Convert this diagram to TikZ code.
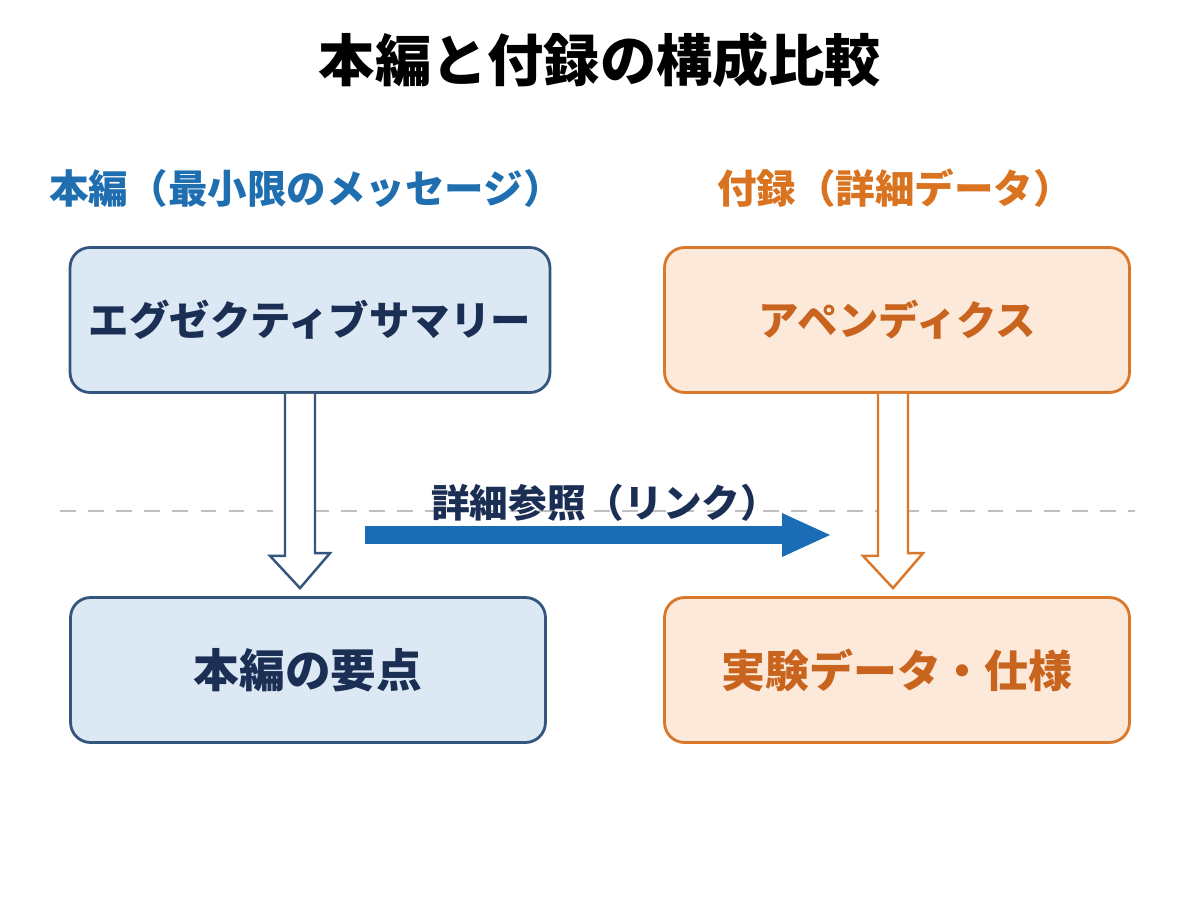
\documentclass[tikz,border=0pt]{standalone}
\usepackage{fontspec}
\setmainfont{Noto Sans CJK JP}
\usetikzlibrary{positioning,calc}
\definecolor{hdblue}{HTML}{1F6FB0}
\definecolor{bxblue}{HTML}{DCE9F5}
\definecolor{lnblue}{HTML}{34557D}
\definecolor{txnavy}{HTML}{1B2F55}
\definecolor{hdorange}{HTML}{D9731F}
\definecolor{bxorange}{HTML}{FDE9D9}
\definecolor{lnorange}{HTML}{D9772A}
\definecolor{txorange}{HTML}{C8641E}
\definecolor{arblue}{HTML}{1A6DB5}
\tikzset{
  mainbox/.style={draw=lnblue, fill=bxblue, line width=1.6pt, rounded corners=0.4cm,
    minimum width=9.6cm, minimum height=2.9cm, text=txnavy, font=\fontsize{23}{27}\selectfont\bfseries},
  appbox/.style={draw=lnorange, fill=bxorange, line width=1.6pt, rounded corners=0.4cm,
    minimum width=9.3cm, minimum height=2.9cm, text=txorange, font=\fontsize{23}{27}\selectfont\bfseries},
  hollow/.style={line width=1.4pt, fill=white, line join=miter}
}
\begin{document}
\begin{tikzpicture}[x=0.02cm,y=-0.02cm]
\useasboundingbox (0,0) rectangle (1200,896);
% title and headings
\node (title) at (600,60) {\fontsize{32}{36}\selectfont\bfseries 本編と付録の構成比較};
\node[text=hdblue] (mainhd) at (306,188) {\fontsize{22.5}{26}\selectfont\bfseries 本編（最小限のメッセージ）};
\node[text=hdorange] (apphd) at (895,188) {\fontsize{22.5}{26}\selectfont\bfseries 付録（詳細データ）};
% separator
\draw[gray!50, dash pattern=on 9pt off 7pt, line width=1.5pt] (60,511) -- (1135,511);
% boxes
\node[mainbox] (summary) at (310,320) {エグゼクティブサマリー};
\node[mainbox, minimum width=9.5cm, font=\fontsize{26}{30}\selectfont\bfseries] (points) at (308,670) {本編の要点};
\node[appbox] (appendix) at (897,320) {アペンディクス};
\node[appbox, font=\fontsize{25}{29}\selectfont\bfseries] (specs) at (897,670) {実験データ・仕様};
% hollow arrows
\draw[hollow, draw=lnblue] ($(summary.south)+(-25,0)$) -- ++(0,162) -- ++(-15,0)
  -- ($(points.north)+(-8,-8)$) -- ++(30,-35) -- ++(-15,0) -- ($(summary.south)+(5,0)$);
\draw[hollow, draw=lnorange] ($(appendix.south)+(-19,0)$) -- ++(0,162) -- ++(-15,0)
  -- ($(specs.north)+(-4,-8)$) -- ++(30,-35) -- ++(-15,0) -- ($(appendix.south)+(11,0)$);
% link arrow
\coordinate (lkstart) at (365,535);
\coordinate (lkend) at (830,535);
\draw[arblue, line width=0.36cm] (lkstart) -- ($(lkend)+(-45,0)$);
\fill[arblue] (lkend) -- ++(-48,-22) -- ++(0,44) -- cycle;
\node[text=txnavy, above=0.1cm of lkstart, anchor=south west, xshift=1.2cm, yshift=0.05cm] (lklabel)
  {\fontsize{22}{26}\selectfont\bfseries 詳細参照（リンク）};
\end{tikzpicture}
\end{document}
